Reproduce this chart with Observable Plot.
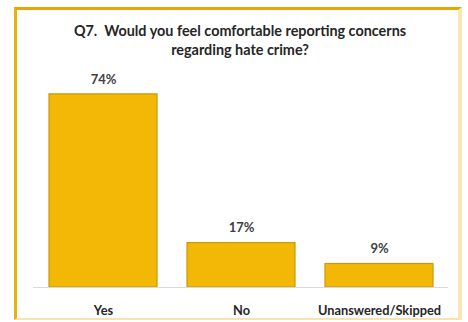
<!DOCTYPE html>
<html>
<head>
<meta charset="utf-8">
<script src="https://cdn.jsdelivr.net/npm/d3@7"></script>
<script src="https://cdn.jsdelivr.net/npm/@observablehq/plot@0.6"></script>
<style>
  html, body { margin: 0; padding: 0; background: #fff; }
  #wrap { position: relative; width: 468px; height: 322px; overflow: hidden; font-family: Lato, "Open Sans", sans-serif; }
  #frame { position: absolute; left: 14px; top: 7px; width: 448px; height: 313px;
           border-top: 3px solid #E2A804; border-left: 3px solid #E9B10A;
           border-right: 4px solid #F8E6B4; border-bottom: 2px solid #F6E3B0; box-sizing: border-box; }
  #title { position: absolute; left: 20px; width: 440px; top: 21px; text-align: center;
           font-weight: bold; font-size: 14.4px; line-height: 19px; color: #262626; white-space: pre; }
  #chart { position: absolute; left: 0; top: 0; }
</style>
</head>
<body>
<div id="wrap">
  <div id="frame"></div>
  <div id="title">Q7.  Would you feel comfortable reporting concerns
regarding hate crime?</div>
  <div id="chart"></div>
</div>
<script>
const categories = ["Yes", "No", "Unanswered/Skipped"];
const values = [74, 17, 9];
const valueLabels = ["74%", "17%", "9%"];

const data = categories.map((c, i) => ({category: c, value: values[i], label: valueLabels[i]}));

const chart = Plot.plot({
  width: 468,
  height: 322,
  marginLeft: 33,
  marginRight: 20,
  marginTop: 26,
  marginBottom: 35,
  style: {background: "transparent", fontFamily: "Lato, 'Open Sans', sans-serif", overflow: "visible"},
  x: {domain: categories, paddingInner: 0.22, paddingOuter: 0.11, label: null},
  y: {domain: [0, 100], axis: null},
  marks: [
    Plot.barY(data, {x: "category", y: "value", fill: "#F3B806", stroke: "#C99A06", strokeWidth: 1.2}),
    Plot.ruleY([0], {stroke: "#D9D9D9", strokeWidth: 1}),
    Plot.text(data, {x: "category", y: "value", text: "label", dy: -15, fill: "#404040", fontWeight: "bold", fontSize: 13}),
    Plot.axisX({tickSize: 0, tickPadding: 18, fontSize: 12.8, fontWeight: "bold", fill: "#262626", label: null})
  ]
});
document.getElementById("chart").appendChild(chart);
</script>
</body>
</html>
